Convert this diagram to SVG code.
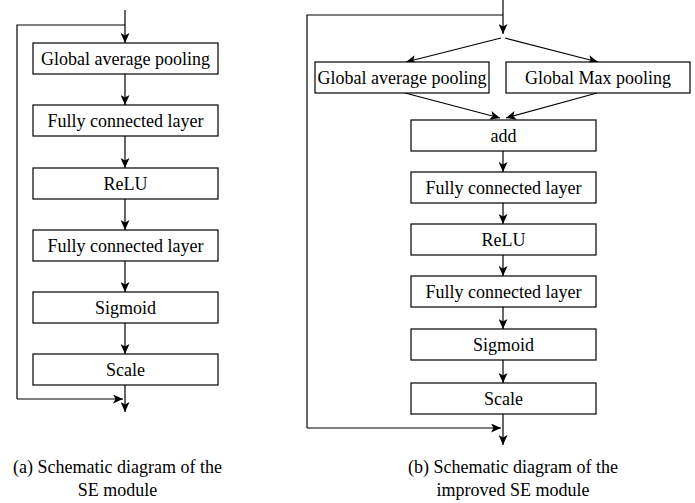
<svg xmlns="http://www.w3.org/2000/svg" width="695" height="503" viewBox="0 0 695 503">
<style>
.box{fill:#fff;stroke:#000;stroke-width:1.2}
.t{font-family:"Times New Roman","Liberation Serif",Times,"DejaVu Serif",serif;font-size:18px;fill:#000;text-anchor:middle}
.c{fill:none;stroke:#000;stroke-width:1.2}
.a{marker-end:url(#arr)}
</style>
<defs>
<marker id="arr" markerUnits="userSpaceOnUse" markerWidth="11" markerHeight="9" refX="10" refY="4.5" orient="auto">
<path d="M0,0 L10,4.5 L0,9 L2.5,4.5 z" fill="#000"/>
</marker>
</defs>
<rect width="695" height="503" fill="#fff"/>
<g id="connectors">
<path class="c a" d="M125,10 V43"/>
<path class="c" d="M125,25 H17 V399"/>
<path class="c a" d="M17,399 H123"/>
<path class="c a" d="M125,74 V105"/>
<path class="c a" d="M125,136 V168"/>
<path class="c a" d="M125,199 V230"/>
<path class="c a" d="M125,261 V292"/>
<path class="c a" d="M125,323 V354"/>
<path class="c a" d="M125,385 V412"/>
<path class="c a" d="M503,0 V34"/>
<path class="c" d="M503,15 H307 V428"/>
<path class="c a" d="M307,428 H501"/>
<path class="c a" d="M501,38 L406,62"/>
<path class="c a" d="M505,38 L598,62"/>
<path class="c a" d="M405,93 L500,118"/>
<path class="c a" d="M597,93 L506,118"/>
<path class="c a" d="M503,151 V172"/>
<path class="c a" d="M503,203 V224"/>
<path class="c a" d="M503,255 V276"/>
<path class="c a" d="M503,307 V329"/>
<path class="c a" d="M503,360 V383"/>
<path class="c a" d="M503,414 V445"/>
</g>
<g id="a-gap"><rect class="box" x="33" y="43" width="185" height="31"/><text class="t" x="125.5" y="64.5">Global average pooling</text></g>
<g id="a-fc1"><rect class="box" x="33" y="105" width="185" height="31"/><text class="t" x="125.5" y="126.5">Fully connected layer</text></g>
<g id="a-relu"><rect class="box" x="33" y="168" width="185" height="31"/><text class="t" x="125.5" y="189.5">ReLU</text></g>
<g id="a-fc2"><rect class="box" x="33" y="230" width="185" height="31"/><text class="t" x="125.5" y="251.5">Fully connected layer</text></g>
<g id="a-sig"><rect class="box" x="33" y="292" width="185" height="31"/><text class="t" x="125.5" y="313.5">Sigmoid</text></g>
<g id="a-scale"><rect class="box" x="33" y="354" width="185" height="31"/><text class="t" x="125.5" y="375.5">Scale</text></g>
<g id="b-gap"><rect class="box" x="315" y="62" width="174" height="31"/><text class="t" x="402" y="83.5">Global average pooling</text></g>
<g id="b-gmp"><rect class="box" x="506" y="62" width="184" height="31"/><text class="t" x="598" y="83.5">Global Max pooling</text></g>
<g id="b-add"><rect class="box" x="411" y="120" width="185" height="31"/><text class="t" x="503.5" y="141.5">add</text></g>
<g id="b-fc1"><rect class="box" x="411" y="172" width="185" height="31"/><text class="t" x="503.5" y="193.5">Fully connected layer</text></g>
<g id="b-relu"><rect class="box" x="411" y="224" width="185" height="31"/><text class="t" x="503.5" y="245.5">ReLU</text></g>
<g id="b-fc2"><rect class="box" x="411" y="276" width="185" height="31"/><text class="t" x="503.5" y="297.5">Fully connected layer</text></g>
<g id="b-sig"><rect class="box" x="411" y="329" width="185" height="31"/><text class="t" x="503.5" y="350.5">Sigmoid</text></g>
<g id="b-scale"><rect class="box" x="411" y="383" width="185" height="31"/><text class="t" x="503.5" y="404.5">Scale</text></g>
<g id="captions">
<text class="t" x="117.5" y="473">(a) Schematic diagram of the</text>
<text class="t" x="117.5" y="496">SE module</text>
<text class="t" x="513" y="473">(b) Schematic diagram of the</text>
<text class="t" x="513" y="496">improved SE module</text>
</g>
</svg>
